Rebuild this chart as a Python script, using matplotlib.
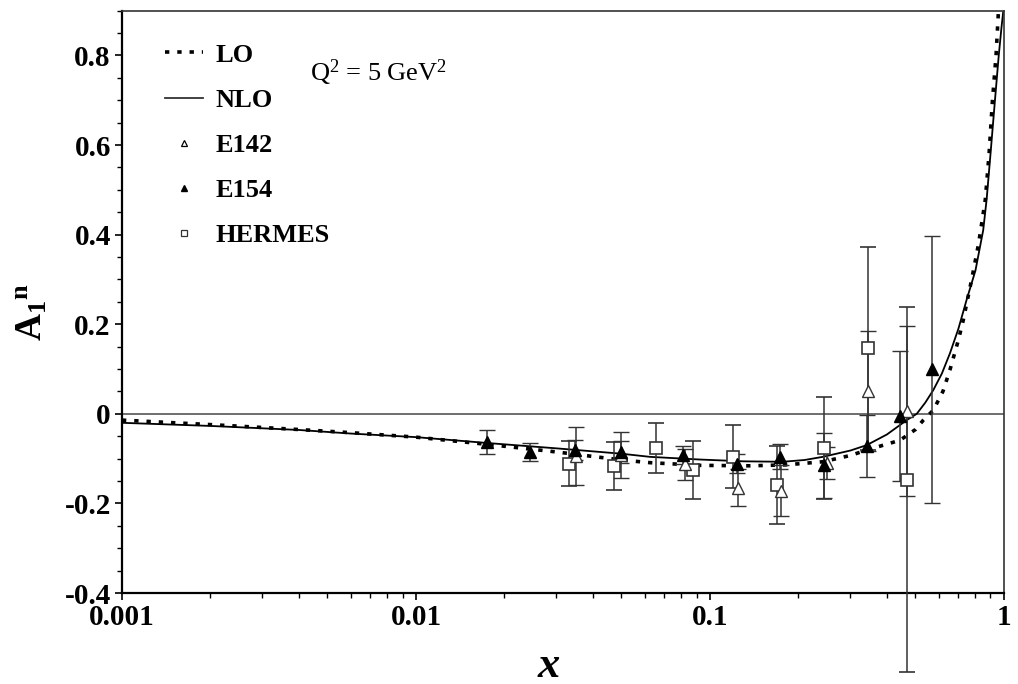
import matplotlib
matplotlib.use("Agg")
import matplotlib.pyplot as plt
import numpy as np
from matplotlib.lines import Line2D
from matplotlib.ticker import FixedLocator, FuncFormatter, MultipleLocator

plt.rcParams['font.family'] = ['Liberation Serif', 'DejaVu Serif']
plt.rcParams['mathtext.fontset'] = 'custom'
plt.rcParams['mathtext.rm'] = 'Liberation Serif'
plt.rcParams['mathtext.bf'] = 'Liberation Serif:bold'
plt.rcParams['mathtext.it'] = 'Liberation Serif:italic'
plt.rcParams['axes.unicode_minus'] = False

# theory curves
lo_x = [0.001, 0.002, 0.004, 0.006, 0.01, 0.0174, 0.03, 0.05, 0.0625, 0.0925,
        0.137, 0.18, 0.242, 0.30, 0.341, 0.443, 0.50, 0.532, 0.575, 0.62,
        0.655, 0.70, 0.727, 0.776, 0.82, 0.864, 0.89, 0.914, 0.94, 0.958, 0.975]
lo_y = [-0.014, -0.024, -0.035, -0.042, -0.052, -0.068, -0.085, -0.103, -0.109, -0.115,
        -0.116, -0.114, -0.107, -0.093, -0.081, -0.059, -0.035, -0.014, 0.008, 0.05,
        0.098, 0.165, 0.209, 0.299, 0.38, 0.478, 0.58, 0.70, 0.80, 0.90, 0.96]
nlo_x = [0.001, 0.002, 0.004, 0.006, 0.01, 0.0174, 0.03, 0.05, 0.0625, 0.0925,
         0.13, 0.177, 0.21, 0.242, 0.30, 0.341, 0.40, 0.467, 0.505, 0.54, 0.575,
         0.615, 0.655, 0.70, 0.746, 0.80, 0.85, 0.873, 0.90, 0.932, 0.96, 0.98, 0.995]
nlo_y = [-0.020, -0.027, -0.036, -0.044, -0.052, -0.065, -0.077, -0.089, -0.096, -0.102,
         -0.106, -0.107, -0.103, -0.096, -0.082, -0.070, -0.046, -0.014, 0.0, 0.025, 0.053,
         0.09, 0.135, 0.19, 0.254, 0.32, 0.41, 0.478, 0.58, 0.70, 0.80, 0.86, 0.90]

# data points
e142_x = [0.035, 0.050, 0.082, 0.125, 0.175, 0.25, 0.344, 0.469]
e142_y = [-0.094, -0.092, -0.113, -0.165, -0.172, -0.110, 0.051, 0.007]
e142_err = [0.065, 0.052, 0.034, 0.041, 0.057, 0.036, 0.134, 0.19]

e154_x = [0.0174, 0.0245, 0.0348, 0.0497, 0.0812, 0.124, 0.173, 0.245, 0.341, 0.443, 0.568]
e154_y = [-0.063, -0.085, -0.080, -0.085, -0.091, -0.111, -0.096, -0.115, -0.072, -0.004, 0.099]
e154_err = [0.027, 0.020, 0.022, 0.025, 0.020, 0.022, 0.028, 0.072, 0.070, 0.145, 0.297]

hermes_x = [0.0332, 0.0472, 0.0654, 0.0873, 0.1194, 0.169, 0.245, 0.344, 0.467]
hermes_y = [-0.111, -0.116, -0.076, -0.126, -0.096, -0.158, -0.077, 0.146, -0.148]
hermes_lo = [0.050, 0.053, 0.055, 0.065, 0.070, 0.087, 0.114, 0.226, 0.429]
hermes_hi = [0.050, 0.053, 0.055, 0.065, 0.070, 0.087, 0.114, 0.226, 0.387]

fig = plt.figure(figsize=(10.18, 6.84), dpi=100)
ax = fig.add_axes([0.1198, 0.1330, 0.8664, 0.8514])
ax.set_xscale('log')
ax.set_xlim(0.001, 1)
ax.set_ylim(-0.4, 0.9)

ax.axhline(0, color='#555555', lw=1.2, zorder=1)

ax.plot(nlo_x, nlo_y, color='black', lw=1.3, zorder=2)
ax.plot(lo_x, lo_y, color='black', lw=2.6, linestyle=(0, (1.2, 2.2)), zorder=2)

ekw = dict(ecolor='#333333', elinewidth=1.1, capsize=6, capthick=1.1, linestyle='none', zorder=3)
eb = ax.errorbar(hermes_x, hermes_y, yerr=[hermes_lo, hermes_hi], marker='s', ms=9,
                 mfc='white', mec='#333333', mew=1.2, **ekw)
for art in eb.lines[1] + eb.lines[2]:
    art.set_clip_on(False)
ax.errorbar(e142_x, e142_y, yerr=e142_err, marker='^', ms=9,
            mfc='white', mec='#333333', mew=1.0, **ekw)
ax.errorbar(e154_x, e154_y, yerr=e154_err, marker='^', ms=9,
            mfc='black', mec='black', mew=1.0, **ekw)

# axes styling
for s in ['left', 'bottom']:
    ax.spines[s].set_linewidth(1.6)
for s in ['top', 'right']:
    ax.spines[s].set_linewidth(1.2)
    ax.spines[s].set_color('#333333')

ax.xaxis.set_major_locator(FixedLocator([0.001, 0.01, 0.1, 1]))
ax.xaxis.set_major_formatter(FuncFormatter(lambda v, p: {0.001: '0.001', 0.01: '0.01', 0.1: '0.1', 1: '1'}.get(round(v, 3), '')))
minors = [m * 10.0 ** e for e in (-3, -2, -1) for m in range(2, 10)]
ax.xaxis.set_minor_locator(FixedLocator(minors))
ax.xaxis.set_minor_formatter(FuncFormatter(lambda v, p: ''))
ax.yaxis.set_major_locator(MultipleLocator(0.2))
ax.yaxis.set_minor_locator(MultipleLocator(0.05))
ax.yaxis.set_major_formatter(FuncFormatter(lambda v, p: '0' if abs(v) < 1e-9 else f'{v:.1f}'))

ax.tick_params(which='major', direction='out', length=5, width=1.2, labelsize=21, pad=3)
ax.tick_params(which='minor', direction='out', length=3.5, width=1.0)
for lab in ax.get_xticklabels() + ax.get_yticklabels():
    lab.set_fontweight('bold')

fig.text(549 / 1018, 1 - 666 / 684, 'x', fontsize=32, ha='center', va='center',
         fontweight='bold', style='italic')
fig.text(32 / 1018, 1 - 312 / 684, r'$\mathbf{A}_{\mathbf{1}}{}^{\mathbf{n}}$', fontsize=27,
         rotation=90, ha='center', va='center')

# legend
handles = [
    Line2D([], [], color='black', lw=2.6, linestyle=(0, (1.2, 2.2))),
    Line2D([], [], color='#333333', lw=1.3),
    Line2D([], [], color='none', marker='^', ms=5, mfc='white', mec='black', mew=0.9),
    Line2D([], [], color='none', marker='^', ms=5, mfc='black', mec='black'),
    Line2D([], [], color='none', marker='s', ms=5, mfc='white', mec='#333333', mew=0.9),
]
labels = ['LO', 'NLO', 'E142', 'E154', 'HERMES']
leg = ax.legend(handles, labels, loc='upper left', bbox_to_anchor=(0.022, 0.985),
                frameon=False, handlelength=1.45, handletextpad=0.45, labelspacing=0.82,
                prop={'family': 'Liberation Serif', 'weight': 'bold', 'size': 19})

ax.text(0.213, 0.893, r'Q$^{2}$ = 5 GeV$^{2}$', transform=ax.transAxes, fontsize=19,
        ha='left', va='center')

fig.savefig('out.png', dpi=100)
